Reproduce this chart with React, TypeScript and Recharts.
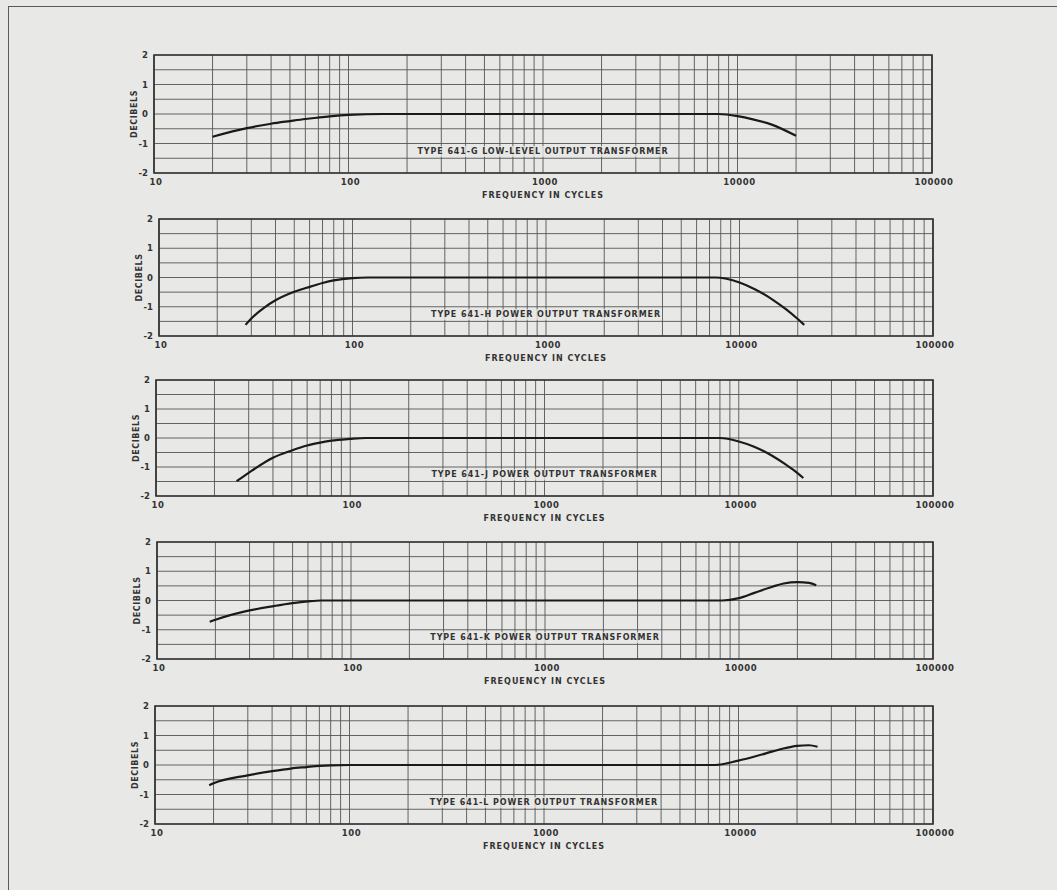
import React from 'react';
import { LineChart, Line, XAxis, YAxis, CartesianGrid, ReferenceArea, ReferenceDot } from 'recharts';

// grid frequencies (log paper: 1..9 in every decade)
const gridFreqs = [
  10, 20, 30, 40, 50, 60, 70, 80, 90,
  100, 200, 300, 400, 500, 600, 700, 800, 900,
  1000, 2000, 3000, 4000, 5000, 6000, 7000, 8000, 9000,
  10000, 20000, 30000, 40000, 50000, 60000, 70000, 80000, 90000,
  100000,
];
const freqLabels = [10, 100, 1000, 10000, 100000];
const gridDb = [-2, -1.5, -1, -0.5, 0, 0.5, 1, 1.5, 2];
const dbLabels = [2, 1, 0, -1, -2];

const titles = [
  'TYPE 641-G LOW-LEVEL OUTPUT TRANSFORMER',
  'TYPE 641-H POWER OUTPUT TRANSFORMER',
  'TYPE 641-J POWER OUTPUT TRANSFORMER',
  'TYPE 641-K POWER OUTPUT TRANSFORMER',
  'TYPE 641-L POWER OUTPUT TRANSFORMER',
];

// response curves, frequency (cycles) -> decibels
const curve641G = [
  { f: 20, db: -0.77 }, { f: 30, db: -0.48 }, { f: 40, db: -0.33 }, { f: 50, db: -0.24 },
  { f: 60, db: -0.17 }, { f: 70, db: -0.12 }, { f: 80, db: -0.08 }, { f: 100, db: -0.03 },
  { f: 150, db: 0 }, { f: 1000, db: 0 }, { f: 8000, db: 0 }, { f: 10000, db: -0.07 },
  { f: 12000, db: -0.18 }, { f: 15000, db: -0.36 }, { f: 20000, db: -0.74 },
];
const curve641H = [
  { f: 28, db: -1.62 }, { f: 30, db: -1.4 }, { f: 35, db: -1.03 }, { f: 40, db: -0.78 },
  { f: 50, db: -0.49 }, { f: 60, db: -0.32 }, { f: 70, db: -0.19 }, { f: 80, db: -0.1 },
  { f: 100, db: -0.02 }, { f: 120, db: 0 }, { f: 1000, db: 0 }, { f: 7500, db: 0 },
  { f: 10000, db: -0.17 }, { f: 12000, db: -0.4 }, { f: 15000, db: -0.78 },
  { f: 17500, db: -1.1 }, { f: 20000, db: -1.42 }, { f: 21600, db: -1.62 },
];
const curve641J = [
  { f: 26, db: -1.49 }, { f: 30, db: -1.2 }, { f: 40, db: -0.68 }, { f: 50, db: -0.43 },
  { f: 60, db: -0.26 }, { f: 70, db: -0.16 }, { f: 80, db: -0.09 }, { f: 100, db: -0.03 },
  { f: 120, db: 0 }, { f: 1000, db: 0 }, { f: 8000, db: 0 }, { f: 10000, db: -0.12 },
  { f: 12000, db: -0.3 }, { f: 15000, db: -0.63 }, { f: 17500, db: -0.92 }, { f: 20000, db: -1.2 },
  { f: 21500, db: -1.38 },
];
const curve641K = [
  { f: 18.7, db: -0.73 }, { f: 20, db: -0.66 }, { f: 30, db: -0.34 }, { f: 40, db: -0.19 },
  { f: 50, db: -0.09 }, { f: 60, db: -0.03 }, { f: 70, db: 0 }, { f: 1000, db: 0 },
  { f: 8200, db: 0 }, { f: 10000, db: 0.08 }, { f: 12000, db: 0.26 }, { f: 15000, db: 0.48 },
  { f: 17000, db: 0.58 }, { f: 20000, db: 0.63 }, { f: 23000, db: 0.6 }, { f: 25000, db: 0.52 },
];
const curve641L = [
  { f: 19, db: -0.69 }, { f: 20, db: -0.62 }, { f: 30, db: -0.35 }, { f: 40, db: -0.21 },
  { f: 50, db: -0.12 }, { f: 60, db: -0.07 }, { f: 70, db: -0.03 }, { f: 80, db: -0.01 },
  { f: 100, db: 0 }, { f: 1000, db: 0 }, { f: 7600, db: 0 }, { f: 10000, db: 0.15 },
  { f: 12000, db: 0.28 }, { f: 15000, db: 0.46 }, { f: 17000, db: 0.56 }, { f: 20000, db: 0.65 },
  { f: 23000, db: 0.67 }, { f: 25500, db: 0.62 },
];

const curves = [curve641G, curve641H, curve641J, curve641K, curve641L];

// plot-area placement of each panel on the page
const panelTop = [55, 219, 380, 542, 706];
const panelLeft = [154, 159, 156, 157, 155];
const panelRight = [932, 933, 933, 933, 933];
const panelHeight = [118, 117, 116, 117, 118];

const PAGE_W = 1057;
const PAGE_H = 890;
const Y_AXIS_W = 40;
const PAPER = '#e8e8e6';
const INK = '#333333';
const GRID = '#555555';
const FONT = '"DejaVu Sans", sans-serif';

const FreqTick = (props: any) => {
  const { x, y, payload } = props;
  if (!freqLabels.includes(payload.value)) return <g />;
  return (
    <text x={x + 2} y={y + 9} textAnchor="middle" dominantBaseline="central"
      fontFamily={FONT} fontSize={8.5} fontWeight="bold" letterSpacing={0.6} fill={INK}>
      {payload.value}
    </text>
  );
};

const DbTick = (props: any) => {
  const { x, y, payload } = props;
  if (!dbLabels.includes(payload.value)) return <g />;
  return (
    <text x={x - 6} y={y} textAnchor="end" dominantBaseline="central"
      fontFamily={FONT} fontSize={8.5} fontWeight="bold" fill={INK}>
      {payload.value}
    </text>
  );
};

function Panel({ idx }: { idx: number }) {
  const topPad = 20;
  const axisH = 34;
  const h = topPad + panelHeight[idx] + axisH;
  const title = titles[idx];
  return (
    <div style={{ position: 'absolute', left: 0, top: panelTop[idx] - topPad }}>
      <LineChart
        width={PAGE_W}
        height={h}
        data={curves[idx]}
        margin={{ top: topPad, left: panelLeft[idx] - Y_AXIS_W, right: PAGE_W - panelRight[idx], bottom: 0 }}
      >
        <CartesianGrid stroke={GRID} strokeWidth={0.9} />
        <XAxis
          dataKey="f"
          type="number"
          scale="log"
          domain={[10, 100000]}
          ticks={gridFreqs}
          interval={0}
          allowDataOverflow
          height={axisH}
          tickSize={0}
          tickMargin={0}
          tickLine={false}
          axisLine={false}
          tick={<FreqTick />}
          label={{
            content: (p: any) => {
              const vb = p.viewBox || {};
              return (
                <text x={vb.x + vb.width / 2} y={vb.y + 22} textAnchor="middle" dominantBaseline="central"
                  fontFamily={FONT} fontSize={8} fontWeight="bold" letterSpacing={1} fill={INK}>
                  FREQUENCY IN CYCLES
                </text>
              );
            },
          }}
        />
        <YAxis
          type="number"
          domain={[-2, 2]}
          ticks={gridDb}
          interval={0}
          width={Y_AXIS_W}
          tickSize={0}
          tickMargin={0}
          tickLine={false}
          axisLine={false}
          tick={<DbTick />}
          label={{
            content: (p: any) => {
              const vb = p.viewBox || {};
              const cx = vb.x + vb.width - 20;
              const cy = vb.y + vb.height / 2;
              return (
                <text x={cx} y={cy} transform={`rotate(-90 ${cx} ${cy})`} textAnchor="middle"
                  dominantBaseline="central" fontFamily={FONT} fontSize={8} fontWeight="bold"
                  letterSpacing={0.6} fill={INK}>
                  DECIBELS
                </text>
              );
            },
          }}
        />
        <ReferenceArea x1={10} x2={100000} y1={-2} y2={2} fill="none" stroke="#333333" strokeWidth={1.7} ifOverflow="visible" />
        <ReferenceDot
          x={1000}
          y={-1.27}
          r={0}
          fill="none"
          stroke="none"
          ifOverflow="visible"
          label={{
            content: (p: any) => {
              const vb = p.viewBox || {};
              const cx = vb.x + (vb.width || 0) / 2;
              const cy = vb.y + (vb.height || 0) / 2;
              const w = title.length * 6.4 + 8;
              return (
                <g>
                  <rect x={cx - w / 2} y={cy - 5.5} width={w} height={11} fill={PAPER} opacity={0.75} />
                  <text x={cx} y={cy} textAnchor="middle" dominantBaseline="central"
                    fontFamily={FONT} fontSize={8} fontWeight="bold" letterSpacing={0.9} fill={INK}>
                    {title}
                  </text>
                </g>
              );
            },
          }}
        />
        <Line
          type="monotoneX"
          dataKey="db"
          stroke="#1a1a1a"
          strokeWidth={2.2}
          dot={false}
          activeDot={false}
          isAnimationActive={false}
        />
      </LineChart>
    </div>
  );
}

export default function App() {
  return (
    <div style={{ position: 'absolute', left: 0, top: 0, width: PAGE_W, height: PAGE_H, background: PAPER, overflow: 'hidden' }}>
      {/* scanned page frame */}
      <div style={{ position: 'absolute', left: 8, top: 6, width: PAGE_W, height: PAGE_H, borderLeft: '1.5px solid #5a5a5a', borderTop: '1.5px solid #5a5a5a' }} />
      {curves.map((_, i) => (
        <Panel key={i} idx={i} />
      ))}
    </div>
  );
}
